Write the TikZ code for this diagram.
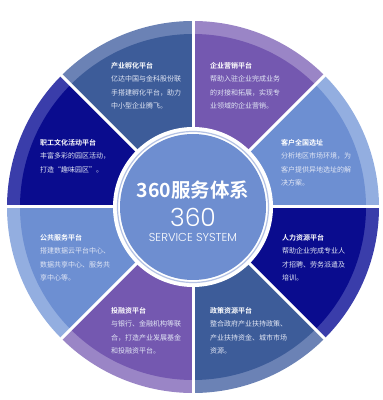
\documentclass[tikz,border=0pt]{standalone}
\usepackage{fontspec}
\newfontfamily\cjk{Noto Sans CJK SC}[BoldFont={Noto Sans CJK SC Bold}]
\newfontfamily\thinf{Poppins Light}
\definecolor{steel}{HTML}{3D5C99}
\definecolor{steelb}{HTML}{6B82B5}
\definecolor{purp}{HTML}{7458B0}
\definecolor{purpb}{HTML}{9A85C6}
\definecolor{lblue}{HTML}{6D8FD2}
\definecolor{lblueb}{HTML}{93AEE0}
\definecolor{navy}{HTML}{0A0C8E}
\definecolor{navyb}{HTML}{3A3DAA}
\definecolor{cblue}{HTML}{6E8ED0}
\definecolor{ringc}{HTML}{B4C2E4}
\definecolor{bodyc}{HTML}{E2E7F5}
\tikzset{
  blk/.style={anchor=base west, inner sep=0pt, text=bodyc, font=\cjk\fontsize{7}{13.3}\selectfont},
  ctitle/.style={anchor=base, inner sep=0pt, text=white, font=\cjk\bfseries\fontsize{19.5}{22}\selectfont},
  cnum/.style={anchor=base, inner sep=0pt, text=white, font=\thinf\fontsize{25}{28}\selectfont},
  csub/.style={anchor=base, inner sep=0pt, text=white, font=\thinf\fontsize{11.5}{13}\selectfont}
}
\newcommand\ttl[1]{{\color{white}\bfseries #1}}
\begin{document}
\begin{tikzpicture}[x=1pt,y=1pt]
\useasboundingbox (0,0) rectangle (383,400);
\coordinate (C) at (193,193);
\foreach \a/\c/\b in {0/lblue/lblueb, 45/purp/purpb, 90/steel/steelb, 135/navy/navyb, 180/lblue/lblueb, 225/purp/purpb, 270/steel/steelb, 315/navy/navyb}{
  \fill[\b] (C) -- +(\a:186) arc[start angle=\a, delta angle=45, radius=186] -- cycle;
  \fill[\c] (C) -- +(\a:173) arc[start angle=\a, delta angle=45, radius=173] -- cycle;
}
\foreach \a in {0,45,...,315}{
  \draw[white, line width=3pt] (C) -- +(\a:188);
}
\fill[white] (C) circle[radius=80];
\draw[ringc, line width=1.2pt] (C) circle[radius=75.5];
\fill[cblue] (C) circle[radius=73];

\node[ctitle] (t1) at (193,202.5) {360服务体系};
\node[cnum] (t2) at (193,173) {360};
\node[csub] (t3) at (193,158) {SERVICE SYSTEM};

\node[blk] (b1) at (111,331.4) {\begin{tabular}[t]{@{}l@{}}\ttl{产业孵化平台}\\ 亿达中国与金科股份联\\ 手搭建孵化平台，助力\\ 中小型企业腾飞。\end{tabular}};
\node[blk] (b2) at (210,331.4) {\begin{tabular}[t]{@{}l@{}}\ttl{企业营销平台}\\ 帮助入驻企业完成业务\\ 的对接和拓展，实现专\\ 业领域的企业营销。\end{tabular}};
\node[blk] (b3) at (281,254.4) {\begin{tabular}[t]{@{}l@{}}\ttl{客户全国选址}\\ 分析地区市场环境，为\\ 客户提供异地选址的解\\ 决方案。\end{tabular}};
\node[blk] (b4) at (282,159.4) {\begin{tabular}[t]{@{}l@{}}\ttl{人力资源平台}\\ 帮助企业完成专业人\\ 才招聘、劳务派遣及\\ 培训。\end{tabular}};
\node[blk] (b5) at (210,86.4) {\begin{tabular}[t]{@{}l@{}}\ttl{政策资源平台}\\ 整合政府产业扶持政策、\\ 产业扶持资金、城市市场\\ 资源。\end{tabular}};
\node[blk] (b6) at (111,86.4) {\begin{tabular}[t]{@{}l@{}}\ttl{投融资平台}\\ 与银行、金融机构等联\\ 合，打造产业发展基金\\ 和投融资平台。\end{tabular}};
\node[blk] (b7) at (40,159.4) {\begin{tabular}[t]{@{}l@{}}\ttl{公共服务平台}\\ 搭建数据云平台中心、\\ 数据共享中心、服务共\\ 享中心等。\end{tabular}};
\node[blk] (b8) at (40,254.4) {\begin{tabular}[t]{@{}l@{}}\ttl{职工文化活动平台}\\ 丰富多彩的园区活动，\\ 打造“趣味园区”。\end{tabular}};
\end{tikzpicture}
\end{document}
